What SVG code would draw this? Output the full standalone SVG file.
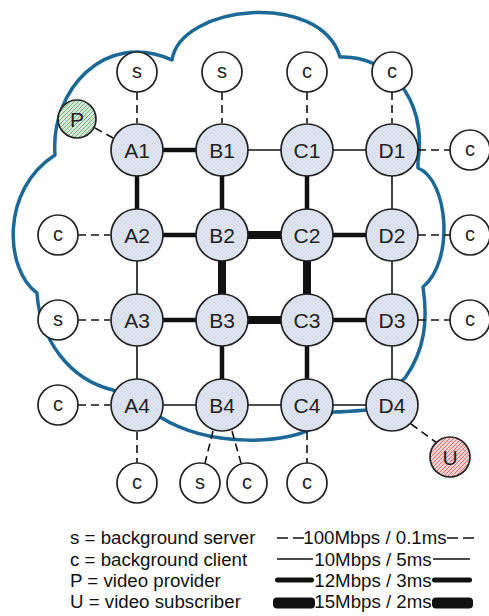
<svg xmlns="http://www.w3.org/2000/svg" width="489" height="616" viewBox="0 0 489 616">
  <defs>
    <pattern id="hatchRouter" width="4" height="4" patternUnits="userSpaceOnUse">
      <rect width="4" height="4" fill="#e0e7f1"/>
      <path d="M0 4 L4 0 M0 0 L4 4" stroke="#c9d3e0" stroke-width="0.5"/>
    </pattern>
    <pattern id="hatchProvider" width="4" height="4" patternUnits="userSpaceOnUse">
      <rect width="4" height="4" fill="#d3e9d4"/>
      <path d="M-1 1 L1 -1 M0 4 L4 0 M3 5 L5 3" stroke="#6fa97a" stroke-width="0.9"/>
    </pattern>
    <pattern id="hatchSubscriber" width="4" height="4" patternUnits="userSpaceOnUse">
      <rect width="4" height="4" fill="#f5d2d1"/>
      <path d="M-1 1 L1 -1 M0 4 L4 0 M3 5 L5 3" stroke="#d46a66" stroke-width="0.9"/>
    </pattern>
  </defs>
  <style>
    .cloud { fill: none; stroke: #1c6896; stroke-width: 3.5; stroke-linejoin: round; }
    .thin { stroke: #111; stroke-width: 1.6; fill: none; }
    .mid { stroke: #111; stroke-width: 4.5; fill: none; }
    .thick { stroke: #111; stroke-width: 8; fill: none; }
    .dash { stroke: #111; stroke-width: 1.6; stroke-dasharray: 8 5; fill: none; }
    .router { fill: url(#hatchRouter); stroke: #222; stroke-width: 1.7; }
    .host { fill: #fff; stroke: #222; stroke-width: 1.7; }
    .provider { fill: url(#hatchProvider); stroke: #222; stroke-width: 1.7; }
    .subscriber { fill: url(#hatchSubscriber); stroke: #222; stroke-width: 1.7; }
    .lbl { font-family: "Liberation Sans", Arial, sans-serif; font-size: 21px; fill: #222; text-anchor: middle; }
    .hlbl { font-family: "Liberation Sans", Arial, sans-serif; font-size: 20px; fill: #222; text-anchor: middle; }
    .legend { font-family: "Liberation Sans", Arial, sans-serif; font-size: 18.7px; fill: #111; }
  </style>

  <!-- network cloud outline -->
  <path class="cloud" d="M55 155 C50 90 105 30 172 60 C180 5 320 -10 340 57 C385 55 428 95 418 162 L418 168 C448 180 455 260 423 287 C428 320 425 350 405 378 L367 410 C355 411 343 412 333 412 L318 425 C290 445 210 448 160 417 L113 390 C70 380 40 340 37 293 C5 270 0 190 55 155 Z"/>

  <g id="connectors">
    <!-- 10Mbps links -->
    <line class="thin" x1="222" y1="150" x2="307" y2="150"/>
    <line class="thin" x1="307" y1="150" x2="392" y2="150"/>
    <line class="thin" x1="392" y1="150" x2="392" y2="235"/>
    <line class="thin" x1="137" y1="235" x2="137" y2="320"/>
    <line class="thin" x1="392" y1="235" x2="392" y2="320"/>
    <line class="thin" x1="137" y1="320" x2="137" y2="405"/>
    <line class="thin" x1="392" y1="320" x2="392" y2="405"/>
    <line class="thin" x1="137" y1="405" x2="222" y2="405"/>
    <line class="thin" x1="222" y1="405" x2="307" y2="405"/>
    <line class="thin" x1="307" y1="405" x2="392" y2="405"/>
    <!-- 12Mbps links -->
    <line class="mid" x1="137" y1="150" x2="222" y2="150"/>
    <line class="mid" x1="137" y1="150" x2="137" y2="235"/>
    <line class="mid" x1="222" y1="150" x2="222" y2="235"/>
    <line class="mid" x1="307" y1="150" x2="307" y2="235"/>
    <line class="mid" x1="137" y1="235" x2="222" y2="235"/>
    <line class="mid" x1="307" y1="235" x2="392" y2="235"/>
    <line class="mid" x1="137" y1="320" x2="222" y2="320"/>
    <line class="mid" x1="307" y1="320" x2="392" y2="320"/>
    <line class="mid" x1="222" y1="320" x2="222" y2="405"/>
    <line class="mid" x1="307" y1="320" x2="307" y2="405"/>
    <!-- 15Mbps links -->
    <line class="thick" x1="222" y1="235" x2="307" y2="235"/>
    <line class="thick" x1="222" y1="235" x2="222" y2="320"/>
    <line class="thick" x1="307" y1="235" x2="307" y2="320"/>
    <line class="thick" x1="222" y1="320" x2="307" y2="320"/>
    <!-- 100Mbps access links -->
    <line class="dash" x1="137" y1="92" x2="137" y2="123"/>
    <line class="dash" x1="222" y1="92" x2="222" y2="123"/>
    <line class="dash" x1="307" y1="92" x2="307" y2="123"/>
    <line class="dash" x1="392" y1="92" x2="392" y2="123"/>
    <line class="dash" x1="95" y1="128" x2="113" y2="138"/>
    <line class="dash" x1="418" y1="150" x2="450" y2="150"/>
    <line class="dash" x1="78" y1="235" x2="110" y2="235"/>
    <line class="dash" x1="418" y1="235" x2="450" y2="235"/>
    <line class="dash" x1="78" y1="320" x2="110" y2="320"/>
    <line class="dash" x1="418" y1="320" x2="450" y2="320"/>
    <line class="dash" x1="78" y1="405" x2="110" y2="405"/>
    <line class="dash" x1="137" y1="432" x2="137" y2="463"/>
    <line class="dash" x1="213" y1="431" x2="205" y2="463"/>
    <line class="dash" x1="232" y1="431" x2="241" y2="463"/>
    <line class="dash" x1="307" y1="432" x2="307" y2="463"/>
    <line class="dash" x1="411" y1="424" x2="437" y2="443"/>
  </g>

  <!-- routers -->
  <g id="A1"><circle class="router" cx="137" cy="150" r="26"/><text class="lbl" x="137" y="157.5">A1</text></g>
  <g id="B1"><circle class="router" cx="222" cy="150" r="26"/><text class="lbl" x="222" y="157.5">B1</text></g>
  <g id="C1"><circle class="router" cx="307" cy="150" r="26"/><text class="lbl" x="307" y="157.5">C1</text></g>
  <g id="D1"><circle class="router" cx="392" cy="150" r="26"/><text class="lbl" x="392" y="157.5">D1</text></g>
  <g id="A2"><circle class="router" cx="137" cy="235" r="26"/><text class="lbl" x="137" y="242.5">A2</text></g>
  <g id="B2"><circle class="router" cx="222" cy="235" r="26"/><text class="lbl" x="222" y="242.5">B2</text></g>
  <g id="C2"><circle class="router" cx="307" cy="235" r="26"/><text class="lbl" x="307" y="242.5">C2</text></g>
  <g id="D2"><circle class="router" cx="392" cy="235" r="26"/><text class="lbl" x="392" y="242.5">D2</text></g>
  <g id="A3"><circle class="router" cx="137" cy="320" r="26"/><text class="lbl" x="137" y="327.5">A3</text></g>
  <g id="B3"><circle class="router" cx="222" cy="320" r="26"/><text class="lbl" x="222" y="327.5">B3</text></g>
  <g id="C3"><circle class="router" cx="307" cy="320" r="26"/><text class="lbl" x="307" y="327.5">C3</text></g>
  <g id="D3"><circle class="router" cx="392" cy="320" r="26"/><text class="lbl" x="392" y="327.5">D3</text></g>
  <g id="A4"><circle class="router" cx="137" cy="405" r="26"/><text class="lbl" x="137" y="412.5">A4</text></g>
  <g id="B4"><circle class="router" cx="222" cy="405" r="26"/><text class="lbl" x="222" y="412.5">B4</text></g>
  <g id="C4"><circle class="router" cx="307" cy="405" r="26"/><text class="lbl" x="307" y="412.5">C4</text></g>
  <g id="D4"><circle class="router" cx="392" cy="405" r="26"/><text class="lbl" x="392" y="412.5">D4</text></g>

  <!-- hosts -->
  <g id="s-top-A"><circle class="host" cx="137" cy="72" r="20"/><text class="hlbl" x="137" y="78">s</text></g>
  <g id="s-top-B"><circle class="host" cx="222" cy="72" r="20"/><text class="hlbl" x="222" y="78">s</text></g>
  <g id="c-top-C"><circle class="host" cx="307" cy="72" r="20"/><text class="hlbl" x="307" y="78">c</text></g>
  <g id="c-top-D"><circle class="host" cx="392" cy="72" r="20"/><text class="hlbl" x="392" y="78">c</text></g>
  <g id="c-right-1"><circle class="host" cx="470" cy="150" r="20"/><text class="hlbl" x="470" y="156">c</text></g>
  <g id="c-right-2"><circle class="host" cx="470" cy="235" r="20"/><text class="hlbl" x="470" y="241">c</text></g>
  <g id="c-right-3"><circle class="host" cx="470" cy="320" r="20"/><text class="hlbl" x="470" y="326">c</text></g>
  <g id="c-left-2"><circle class="host" cx="58" cy="235" r="20"/><text class="hlbl" x="58" y="241">c</text></g>
  <g id="s-left-3"><circle class="host" cx="58" cy="320" r="20"/><text class="hlbl" x="58" y="326">s</text></g>
  <g id="c-left-4"><circle class="host" cx="58" cy="405" r="20"/><text class="hlbl" x="58" y="411">c</text></g>
  <g id="c-bottom-A"><circle class="host" cx="137" cy="483" r="20"/><text class="hlbl" x="137" y="489">c</text></g>
  <g id="s-bottom-B"><circle class="host" cx="200" cy="483" r="20"/><text class="hlbl" x="200" y="489">s</text></g>
  <g id="c-bottom-B"><circle class="host" cx="247" cy="483" r="20"/><text class="hlbl" x="247" y="489">c</text></g>
  <g id="c-bottom-C"><circle class="host" cx="307" cy="483" r="20"/><text class="hlbl" x="307" y="489">c</text></g>
  <g id="P"><circle class="provider" cx="77" cy="119" r="19"/><text class="lbl" x="77" y="126.5">P</text></g>
  <g id="U"><circle class="subscriber" cx="450" cy="457" r="20"/><text class="lbl" x="450" y="464.5">U</text></g>

  <!-- legend -->
  <g id="legend">
    <text class="legend" x="70" y="544">s = background server</text>
    <text class="legend" x="70" y="566">c = background client</text>
    <text class="legend" x="70" y="587">P = video provider</text>
    <text class="legend" x="70" y="608">U = video subscriber</text>

    <line x1="277" y1="538" x2="304" y2="538" stroke="#111" stroke-width="1.6" stroke-dasharray="11 5"/>
    <line x1="447" y1="538" x2="474" y2="538" stroke="#111" stroke-width="1.6" stroke-dasharray="11 5"/>
    <text class="legend" x="375" y="544" text-anchor="middle">100Mbps / 0.1ms</text>

    <line x1="277" y1="559" x2="313" y2="559" stroke="#111" stroke-width="1.6"/>
    <line x1="433" y1="559" x2="470" y2="559" stroke="#111" stroke-width="1.6"/>
    <text class="legend" x="373" y="566" text-anchor="middle">10Mbps / 5ms</text>

    <rect x="275" y="577.5" width="39" height="5" rx="2.5" fill="#111"/>
    <rect x="432" y="577.5" width="40" height="5" rx="2.5" fill="#111"/>
    <text class="legend" x="373" y="587" text-anchor="middle">12Mbps / 3ms</text>

    <rect x="273" y="597.5" width="42" height="11" rx="4" fill="#111"/>
    <rect x="432" y="597.5" width="41" height="11" rx="4" fill="#111"/>
    <text class="legend" x="373" y="608" text-anchor="middle">15Mbps / 2ms</text>
  </g>
</svg>
